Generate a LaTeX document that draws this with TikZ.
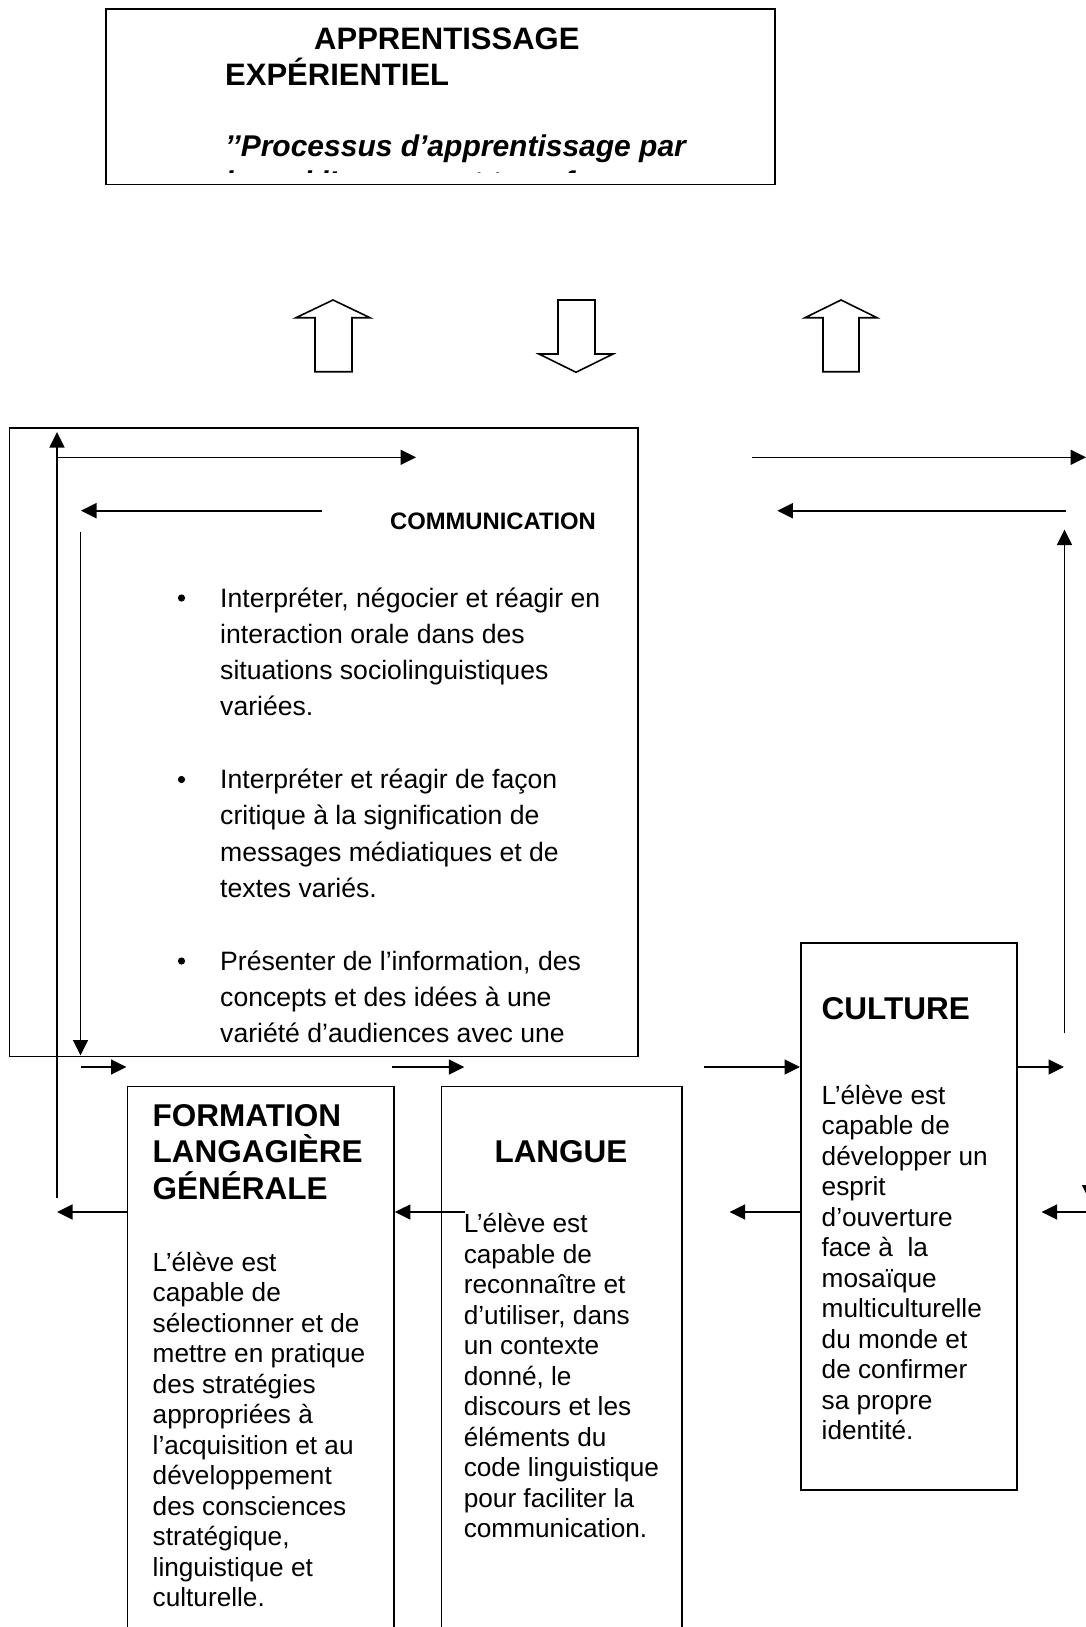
\documentclass[tikz,border=0pt]{standalone}
\usepackage{fontspec}
\setmainfont{Liberation Sans}
\usetikzlibrary{arrows.meta}
\newcommand\blk[2]{\parbox[t]{#1}{\raggedright #2}}
\tikzset{
  box/.style={draw, line width=1.7pt, anchor=north west, inner sep=0pt},
  txt/.style={anchor=base west, inner sep=0pt},
  arr/.style={line width=1.6pt, -{Triangle[length=15.5pt, width=15pt]}},
  hollow/.style={draw, line width=1.6pt, line join=miter},
  ttl/.style={font=\fontsize{31pt}{36pt}\selectfont\bfseries},
  hdr/.style={font=\fontsize{31.5pt}{36.3pt}\selectfont\bfseries},
  body/.style={font=\fontsize{26.2pt}{30.5pt}\selectfont},
  bul/.style={font=\fontsize{26.6pt}{36.3pt}\selectfont},
}
\begin{document}
\begin{tikzpicture}[x=1pt,y=-1pt]
\useasboundingbox (0,0) rectangle (1086,1627);
\fill[white] (0,0) rectangle (1086,1627);
\clip (0,0) rectangle (1086,1627);

% ---------- top box ----------
\node[box, minimum width=669.2pt, minimum height=175.3pt] (top) at (104.8,8.3) {};
\node[txt, ttl] (t1) at (314,49.5) {APPRENTISSAGE};
\node[txt, ttl] (t2) at (225,85.5) {EXPÉRIENTIEL};
\node[txt, font=\fontsize{30pt}{36pt}\selectfont\bfseries\itshape] (t3) at (225,156.5) {’’Processus d’apprentissage par};
\begin{scope}
  \clip (104.8,0) rectangle (774,172.5);
  \node[txt, font=\fontsize{30pt}{36pt}\selectfont\bfseries\itshape] (t4) at (225,192.5) {lequel l’apprenant transforme};
\end{scope}

% ---------- hollow block arrows ----------
\draw[hollow] (333,300) -- (370,317.7) -- (352,317.7) -- (352,371.7) -- (315,371.7) -- (315,317.7) -- (296,317.7) -- cycle;
\draw[hollow] (558,300) -- (595,300) -- (595,354) -- (613,354) -- (576,372.3) -- (539,354) -- (558,354) -- cycle;
\draw[hollow] (841,300) -- (877,317.7) -- (859,317.7) -- (859,371.7) -- (823,371.7) -- (823,317.7) -- (805,317.7) -- cycle;

% ---------- communication box ----------
\node[box, minimum width=628.5pt, minimum height=628.2pt] (comm) at (8.5,427.3) {};
\node[anchor=base, inner sep=0pt, font=\fontsize{23.8pt}{28pt}\selectfont\bfseries] (commt) at (493,529) {COMMUNICATION};

\fill (181.5,598) circle (3.6pt);
\node[txt, bul] (b1) at (220,607) {\blk{420pt}{Interpréter, négocier et réagir en\\interaction orale dans des\\situations sociolinguistiques\\variées.}};
\fill (181.5,779.5) circle (3.6pt);
\node[txt, bul] (b2) at (220,788.5) {\blk{420pt}{Interpréter et réagir de façon\\critique à la signification de\\messages médiatiques et de\\textes variés.}};
\fill (181.5,961) circle (3.6pt);
\node[txt, bul] (b3) at (220,970) {\blk{420pt}{Présenter de l’information, des\\concepts et des idées à une\\variété d’audiences avec une}};

% ---------- lower boxes ----------
\node[box, minimum width=266.7pt, minimum height=560pt] (form) at (126.5,1085.5) {};
\node[box, minimum width=240.9pt, minimum height=560pt] (lang) at (440.5,1085.5) {};
\node[box, minimum width=216pt, minimum height=547.6pt] (cult) at (800,941.8) {};

\node[txt, hdr] (formh) at (152.5,1126.5) {\blk{300pt}{FORMATION\\LANGAGIÈRE\\GÉNÉRALE}};
\node[txt, body] (formb) at (152.5,1271) {\blk{300pt}{L’élève est\\capable de\\sélectionner et de\\mettre en pratique\\des stratégies\\appropriées à\\l’acquisition et au\\développement\\des consciences\\stratégique,\\linguistique et\\culturelle.}};

\node[anchor=base, inner sep=0pt, hdr] (langh) at (561,1162.6) {LANGUE};
\node[txt, body] (langb) at (463.6,1232.5) {\blk{300pt}{L’élève est\\capable de\\reconnaître et\\d’utiliser, dans\\un contexte\\donné, le\\discours et les\\éléments du\\code linguistique\\pour faciliter la\\communication.}};

\node[txt, hdr] (culth) at (821.5,1019.5) {CULTURE};
\node[txt, body] (cultb) at (821.5,1104) {\blk{300pt}{L’élève est\\capable de\\développer un\\esprit\\d’ouverture\\face à\ \ la\\mosaïque\\multiculturelle\\du monde et\\de confirmer\\sa propre\\identité.}};

% ---------- connector coordinates ----------
\coordinate (upLs) at (57,1198);
\coordinate (upLe) at (57,432);
\coordinate (topRs) at (57,457.3);
\coordinate (topRe) at (416,457.3);
\coordinate (midLs) at (322,510.7);
\coordinate (midLe) at (81,510.7);
\coordinate (dnLs) at (80.5,532);
\coordinate (dnLe) at (80.5,1055.5);
\coordinate (sm1s) at (80.5,1067);
\coordinate (sm1e) at (126.5,1067);
\coordinate (sm2s) at (392,1067);
\coordinate (sm2e) at (464.3,1067);
\coordinate (inCs) at (704,1067);
\coordinate (outCe) at (1064,1067);
\coordinate (fLe) at (57,1212);
\coordinate (lLs) at (465,1212);
\coordinate (cLe) at (729.5,1212);
\coordinate (rLs) at (1092,1212);
\coordinate (rLe) at (1041.5,1212);
\coordinate (rUs) at (1064.5,1033);
\coordinate (rUe) at (1064.5,529.5);
\coordinate (tRs) at (752,457.3);
\coordinate (tRe) at (1086,457.3);
\coordinate (mRs) at (1065.7,510.7);
\coordinate (mRe) at (777.3,510.7);
\coordinate (edgS) at (1089.5,1120);
\coordinate (edgE) at (1089.5,1200.5);

% ---------- connectors ----------
\draw[arr] (upLs) -- (upLe);
\draw[arr] (topRs) -- (topRe);
\draw[arr] (midLs) -- (midLe);
\draw[arr] (dnLs) -- (dnLe);
\draw[arr] (sm1s) -- (sm1e);
\draw[arr] (sm2s) -- (sm2e);
\draw[arr] (inCs) -- (inCs -| cult.west);
\draw[arr] (cult.east |- outCe) -- (outCe);
\draw[arr] (form.west |- fLe) -- (fLe);
\draw[arr] (lLs) -- (lLs -| form.east);
\draw[arr] (cult.west |- cLe) -- (cLe);
\draw[arr] (rLs) -- (rLe);
\draw[arr] (rUs) -- (rUe);
\draw[arr] (tRs) -- (tRe);
\draw[arr] (mRs) -- (mRe);
\draw[arr] (edgS) -- (edgE);
\end{tikzpicture}
\end{document}
